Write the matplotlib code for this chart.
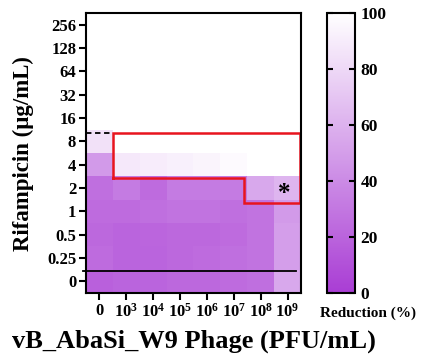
import numpy as np
import matplotlib
matplotlib.use("Agg")
import matplotlib.pyplot as plt
from matplotlib.colors import LinearSegmentedColormap

plt.rcParams['font.family'] = ['Liberation Serif', 'DejaVu Serif']
plt.rcParams['font.weight'] = 'bold'
plt.rcParams['mathtext.fontset'] = 'custom'
plt.rcParams['mathtext.rm'] = 'Liberation Serif:bold'
plt.rcParams['mathtext.bf'] = 'Liberation Serif:bold'
plt.rcParams['mathtext.it'] = 'Liberation Serif:bold'

phage_labels = ['0', r'$10^{3}$', r'$10^{4}$', r'$10^{5}$', r'$10^{6}$',
                r'$10^{7}$', r'$10^{8}$', r'$10^{9}$']
rif_labels = ['0', '0.25', '0.5', '1', '2', '4', '8', '16', '32', '64', '128', '256']

# Reduction (%) per rifampicin row (bottom to top), one value per phage column
reduction = np.array([
    [18, 20, 20, 22, 22, 24, 26, 55],    # 0
    [24, 20, 20, 22, 24, 26, 28, 50],    # 0.25
    [22, 20, 21, 22, 22, 24, 28, 50],    # 0.5
    [24, 24, 26, 28, 28, 26, 28, 48],    # 1
    [26, 32, 24, 32, 32, 32, 55, 62],    # 2
    [48, 88, 90, 92, 94, 97, 100, 100],  # 4
    [84, 100, 100, 100, 100, 100, 100, 100],  # 8
    [100] * 8,                           # 16
    [100] * 8,                           # 32
    [100] * 8,                           # 64
    [100] * 8,                           # 128
    [100] * 8,                           # 256
])

cmap = LinearSegmentedColormap.from_list('purple_white', ['#A93DD4', '#FFFFFF'])

fig = plt.figure(figsize=(4.21, 3.61), dpi=100)
ax = fig.add_axes([0.204, 0.188, 0.511, 0.776])
cax = fig.add_axes([0.777, 0.188, 0.066, 0.776])

mesh = ax.pcolormesh(np.arange(-0.5, 8.5, 1), np.arange(-0.5, 12.5, 1), reduction,
                     cmap=cmap, vmin=0, vmax=100, shading='flat')
ax.set_xlim(-0.5, 7.5)
ax.set_ylim(-0.5, 11.5)

ax.set_xticks(range(len(phage_labels)))
ax.set_xticklabels(phage_labels, fontsize=12)
ax.set_yticks(range(len(rif_labels)))
ax.set_yticklabels(rif_labels, fontsize=12, fontweight='bold')
for lab in ax.get_xticklabels():
    lab.set_fontweight('bold')
ax.tick_params(axis='both', direction='out', length=5, width=1.5, pad=2)
for sp in ax.spines.values():
    sp.set_linewidth(1.5)

ax.set_xlabel('vB_AbaSi_W9 Phage (PFU/mL)', fontsize=19, fontweight='bold')
ax.xaxis.set_label_coords(0.5, -0.13)
ax.set_ylabel('Rifampicin (μg/mL)', fontsize=16.5, fontweight='bold')
ax.yaxis.set_label_coords(-0.29, 0.5)
ax.yaxis.label.set_va('center')

# Red outline around the synergy region
box_x = [0.5, 0.5, 7.45, 7.45, 5.38, 5.38, 0.5]
box_y = [4.42, 6.38, 6.38, 3.38, 3.38, 4.42, 4.42]
ax.plot(box_x, box_y, color='#E8141E', lw=1.8, solid_joinstyle='miter')

# MIC markers
ax.plot([-0.5, 0.5], [6.38, 6.38], color='black', lw=1.3, ls=(0, (3, 2)))
ax.plot([-0.62, 7.32], [0.44, 0.44], color='black', lw=1.3, clip_on=False)

ax.text(6.88, 3.78, '*', fontsize=18, fontweight='bold', ha='center', va='center')

cb = fig.colorbar(mesh, cax=cax)
cb.set_ticks([0, 20, 40, 60, 80, 100])
cb.ax.tick_params(direction='in', length=4, width=1.5, left=True, right=True,
                  labelsize=12.5, pad=4)
for lab in cb.ax.get_yticklabels():
    lab.set_fontweight('bold')
cb.outline.set_linewidth(1.5)
fig.text(0.874, 0.133, 'Reduction (%)', fontsize=11, fontweight='bold',
         ha='center', va='center')

fig.savefig('out.png', dpi=100)
